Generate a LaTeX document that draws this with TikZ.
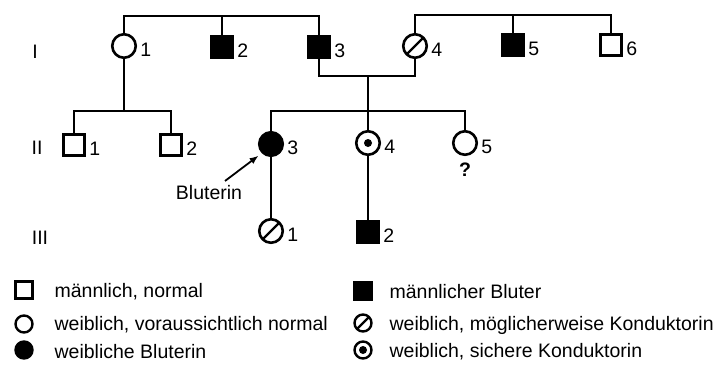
\documentclass[tikz,border=0pt]{standalone}
\usepackage{fontspec}
\setmainfont{Liberation Sans}
\usetikzlibrary{arrows.meta}

\begin{document}
\begin{tikzpicture}[x=1pt,y=-1pt,line width=2.6pt]
	\tikzset{every node/.style={font=\fontsize{19.5}{22}\selectfont},
		num/.style={label distance=2pt,inner sep=0pt,yshift=-4pt},
		male/.style={draw,rectangle,minimum size=21.5pt,inner sep=0pt},
		female/.style={draw,circle,minimum size=23.5pt,inner sep=0pt},
		bleeder/.style={fill=black},
		maybe/.style={path picture={\draw[line width=2.4pt] (path picture bounding box.south west) -- (path picture bounding box.north east);}},
		sure/.style={path picture={\fill (path picture bounding box.center) circle (4pt);}},
		small/.style={minimum size=17pt,line width=2.4pt}}

	\useasboundingbox (0,0) rectangle (718,367);

	% generations
	    \node (gi) at (35,52) {I};
	    \node (gii) at (37,148) {II};
	    \node (giii) at (40,238) {III};

	% generation I
	    \node[female,label={[num]right:1}] (i1) at (124,46) {};
	    \node[male,bleeder,label={[num]right:2}] (i2) at (222,47) {};
	    \node[male,bleeder,label={[num]right:3}] (i3) at (319,47) {};
	    \node[female,maybe,label={[num]right:4}] (i4) at (415,46) {};
	    \node[male,bleeder,label={[num]right:5}] (i5) at (513,45) {};
	    \node[male,label={[num]right:6}] (i6) at (611,45) {};

	    \coordinate (topL) at (222,16);
	    \coordinate (topR) at (513,15);
	    \coordinate (mar) at (368,76);
	    \draw (i1.north) |- (topL) -| (i3.north);
	    \draw (i2.north) -- (topL);
	    \draw (i4.north) |- (topR) -| (i6.north);
	    \draw (i5.north) -- (topR);
	    \draw (i3.south) |- (mar) -| (i4.south);

	% generation II
	    \node[male,label={[num]right:1}] (ii1) at (74,145) {};
	    \node[male,label={[num]right:2}] (ii2) at (171,145) {};
	    \node[female,bleeder,label={[num]right:3}] (ii3) at (271,144) {};
	    \node[female,sure,label={[num]right:4}] (ii4) at (368,143) {};
	    \node[female,label={[num]right:5}] (ii5) at (465,143) {};
	    \node[font=\fontsize{19.5}{22}\bfseries] (q) at (465,170) {?};

	    \coordinate (sib1) at (124,111);
	    \coordinate (sib2) at (368,111);
	    \draw (i1.south) -- (sib1);
	    \draw (ii1.north) |- (sib1) -| (ii2.north);
	    \draw (mar) -- (ii4.north);
	    \draw (ii3.north) |- (sib2) -| (ii5.north);

	    \node (blut) at (209,193) {Bluterin};
	    \coordinate (tail) at (225,181);
	    \draw[-{Latex[length=9pt,width=7pt]},line width=1.8pt,shorten >=4pt] (tail) -- (ii3.225);

	% generation III
	    \node[female,maybe,label={[num]right:1}] (iii1) at (271,231) {};
	    \node[male,bleeder,label={[num]right:2}] (iii2) at (368,232) {};
	    \draw (ii3.south) -- (iii1.north);
	    \draw (ii4.south) -- (iii2.north);

	% key
	    \node[male,small] (k1) at (24,290) {};
	    \node[female,small] (k2) at (24,324) {};
	    \node[female,small,bleeder] (k3) at (24,350) {};
	    \node[male,small,bleeder] (k4) at (363,291) {};
	    \node[female,small,maybe] (k5) at (363,323) {};
	    \node[female,small,sure] (k6) at (363,350) {};

	    \node[anchor=west] (t1) at (50,292) {männlich, normal};
	    \node[anchor=west] (t2) at (50,325) {weiblich, voraussichtlich normal};
	    \node[anchor=west] (t3) at (50,352) {weibliche Bluterin};
	    \node[anchor=west] (t4) at (385,292) {männlicher Bluter};
	    \node[anchor=west] (t5) at (385,325) {weiblich, möglicherweise Konduktorin};
	    \node[anchor=west] (t6) at (385,352) {weiblich, sichere Konduktorin};

\end{tikzpicture}
\end{document}
